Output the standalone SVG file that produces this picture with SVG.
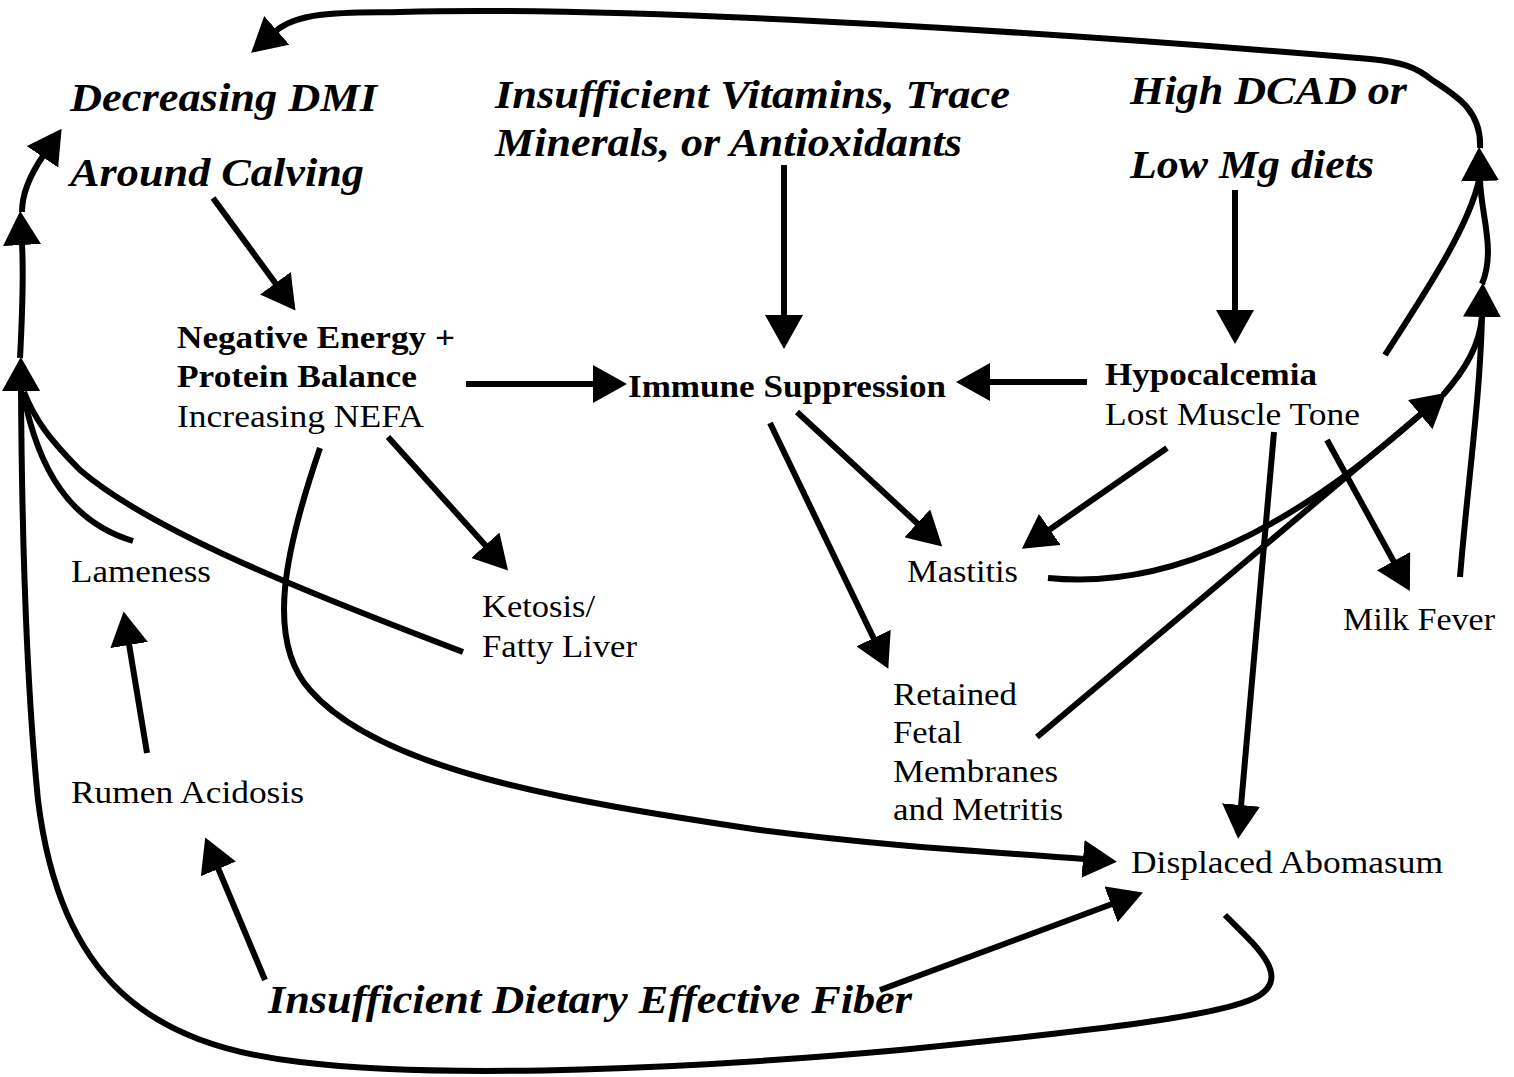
<svg xmlns="http://www.w3.org/2000/svg" width="1514" height="1077" viewBox="0 0 1514 1077">
<style>
.t{font-family:"Liberation Serif","Times New Roman",serif;fill:#000}
.bi{font-size:40px;font-weight:bold;font-style:italic}
.b{font-size:32px;font-weight:bold}
.r{font-size:32px}
.c path{fill:none;stroke:#000;stroke-width:6;stroke-linecap:butt}
.c path.a{marker-end:url(#ah)}
</style>
<defs>
<marker id="ah" markerUnits="userSpaceOnUse" markerWidth="34" markerHeight="38" viewBox="0 0 34 38" refX="1" refY="19" orient="auto">
<path d="M0,0 L34,19 L0,38 z" fill="#000"/>
</marker>
</defs>
<rect width="1514" height="1077" fill="#fff"/>

<g class="c" id="connectors">
<path class="a" d="M213,198 L276,284"/>
<path class="a" d="M784,165 L784,316"/>
<path class="a" d="M1235,190 L1235,311"/>
<path class="a" d="M466,384 L594,384"/>
<path class="a" d="M1087,382 L989,382"/>
<path class="a" d="M388,437 L486,546"/>
<path class="a" d="M797,412 L918,524"/>
<path class="a" d="M770,423 L874,639"/>
<path class="a" d="M1167,448 L1049,530"/>
<path class="a" d="M1327,440 L1394,562"/>
<path class="a" d="M1274,432 L1241,806"/>
<path class="a" d="M147,753 L129,644"/>
<path class="a" d="M265,980 L218,868"/>
<path class="a" d="M880,990 L1112,904"/>
<path class="a" d="M320,448 C285,550 265,640 310,690 C380,770 560,800 760,830 C900,848 1000,852 1084,859"/>
<path d="M1048,578 C1170,590 1290,530 1421,414"/>
<path class="a" d="M1037,737 L1421,414"/>
<path d="M1443,395 C1465,370 1480,345 1482,316"/>
<path class="a" d="M1460,577 C1468,480 1480,400 1482,316"/>
<path d="M1385,355 C1420,300 1468,230 1479,180"/>
<path class="a" d="M1482,284 C1496,250 1481,215 1480,180"/>
<path class="a" d="M1480,148 C1482,110 1455,95 1432,80 C1415,66 1400,62 1370,59 C1100,36 650,5 400,12 C350,13 300,10 276,31"/>
<path class="a" d="M22,212 C22,195 30,175 43,156"/>
<path class="a" d="M20,358 C22,320 24,280 22,244"/>
<path class="a" d="M1225,915 C1255,945 1290,975 1260,995 C1230,1015 1100,1030 900,1050 C700,1068 450,1080 300,1062 C150,1045 60,980 38,800 C28,700 22,550 21,390"/>
<path d="M133,541 C70,522 38,470 23,392"/>
<path d="M463,652 C300,590 150,530 80,470 C50,440 35,420 24,392"/>
</g>

<g id="n-dmi"><text class="t bi" x="70" y="111" textLength="307" lengthAdjust="spacingAndGlyphs">Decreasing DMI</text><text class="t bi" x="70" y="186" textLength="294" lengthAdjust="spacingAndGlyphs">Around Calving</text></g>
<g id="n-vit"><text class="t bi" x="495" y="108" textLength="515" lengthAdjust="spacingAndGlyphs">Insufficient Vitamins, Trace</text><text class="t bi" x="495" y="156" textLength="467" lengthAdjust="spacingAndGlyphs">Minerals, or Antioxidants</text></g>
<g id="n-dcad"><text class="t bi" x="1130" y="104" textLength="277" lengthAdjust="spacingAndGlyphs">High DCAD or</text><text class="t bi" x="1130" y="178" textLength="244" lengthAdjust="spacingAndGlyphs">Low Mg diets</text></g>
<g id="n-neg"><text class="t b" x="177" y="348" textLength="278" lengthAdjust="spacingAndGlyphs">Negative Energy +</text><text class="t b" x="177" y="387" textLength="240" lengthAdjust="spacingAndGlyphs">Protein Balance</text><text class="t r" x="177" y="427" textLength="247" lengthAdjust="spacingAndGlyphs">Increasing NEFA</text></g>
<g id="n-immune"><text class="t b" x="628" y="397" textLength="318" lengthAdjust="spacingAndGlyphs">Immune Suppression</text></g>
<g id="n-hypo"><text class="t b" x="1105" y="385" textLength="212" lengthAdjust="spacingAndGlyphs">Hypocalcemia</text><text class="t r" x="1105" y="425" textLength="255" lengthAdjust="spacingAndGlyphs">Lost Muscle Tone</text></g>
<g id="n-lame"><text class="t r" x="71" y="582" textLength="140" lengthAdjust="spacingAndGlyphs">Lameness</text></g>
<g id="n-ketosis"><text class="t r" x="482" y="617" textLength="113" lengthAdjust="spacingAndGlyphs">Ketosis/</text><text class="t r" x="482" y="657" textLength="155" lengthAdjust="spacingAndGlyphs">Fatty Liver</text></g>
<g id="n-mastitis"><text class="t r" x="907" y="582" textLength="111" lengthAdjust="spacingAndGlyphs">Mastitis</text></g>
<g id="n-milk"><text class="t r" x="1343" y="630" textLength="152" lengthAdjust="spacingAndGlyphs">Milk Fever</text></g>
<g id="n-rfm"><text class="t r" x="893" y="705" textLength="124" lengthAdjust="spacingAndGlyphs">Retained</text><text class="t r" x="893" y="743" textLength="69" lengthAdjust="spacingAndGlyphs">Fetal</text><text class="t r" x="893" y="782" textLength="165" lengthAdjust="spacingAndGlyphs">Membranes</text><text class="t r" x="893" y="820" textLength="170" lengthAdjust="spacingAndGlyphs">and Metritis</text></g>
<g id="n-rumen"><text class="t r" x="71" y="803" textLength="233" lengthAdjust="spacingAndGlyphs">Rumen Acidosis</text></g>
<g id="n-da"><text class="t r" x="1131" y="873" textLength="312" lengthAdjust="spacingAndGlyphs">Displaced Abomasum</text></g>
<g id="n-fiber"><text class="t bi" x="268" y="1013" textLength="644" lengthAdjust="spacingAndGlyphs">Insufficient Dietary Effective Fiber</text></g>
</svg>
